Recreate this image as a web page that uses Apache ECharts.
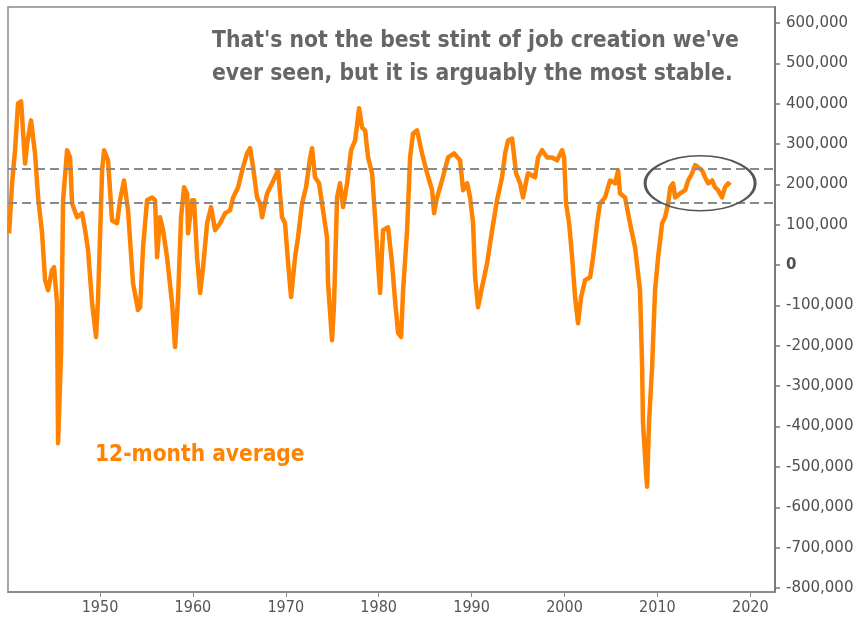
<!DOCTYPE html>
<html><head><meta charset="utf-8">
<script src="https://cdn.jsdelivr.net/npm/echarts@6/dist/echarts.min.js"></script>
<style>html,body{margin:0;padding:0;background:#fff}#c{width:866px;height:627px}</style>
</head><body><div id="c"></div>
<script>
// Year (decimal) of each reading
const years = [
1940.22,1940.54,1940.86,1941.18,1941.51,1941.94,1942.15,1942.58,1943.01,1943.34,1943.77,1944.09,1944.41,1944.84,1945.06,1945.38,1945.49,1945.81,
1946.03,1946.46,1946.78,1947.00,1947.53,1948.07,1948.40,1948.72,1949.15,1949.58,1949.80,1950.23,1950.44,1950.87,1951.30,1951.84,1952.16,1952.59,
1953.02,1953.56,1954.10,1954.32,1954.64,1955.07,1955.61,1955.93,1956.15,1956.47,1956.79,1957.22,1957.76,1958.08,1958.41,1958.73,1959.05,1959.38,
1959.48,1959.91,1960.13,1960.45,1960.78,1961.10,1961.53,1961.96,1962.39,1962.93,1963.47,1964.00,1964.33,1964.87,1965.40,1965.83,1966.16,1966.48,
1966.91,1967.23,1967.45,1967.99,1968.53,1969.17,1969.60,1969.92,1970.25,1970.57,1971.00,1971.32,1971.75,1972.18,1972.62,1972.83,1973.15,1973.58,
1974.01,1974.44,1974.55,1974.98,1975.20,1975.52,1975.84,1976.17,1976.60,1977.03,1977.46,1977.89,1978.21,1978.54,1978.86,1979.29,1979.61,1980.15,
1980.47,1981.01,1981.44,1981.76,1982.09,1982.41,1982.63,1983.06,1983.38,1983.70,1984.13,1984.67,1985.21,1985.75,1985.96,1986.29,1986.82,1987.47,
1988.12,1988.76,1989.09,1989.52,1989.84,1990.16,1990.38,1990.70,1991.13,1991.67,1992.21,1992.74,1993.28,1993.61,1993.93,1994.36,1994.79,1995.22,
1995.54,1995.97,1996.08,1996.83,1997.16,1997.59,1998.13,1998.66,1999.20,1999.74,1999.96,2000.17,2000.50,2000.82,2001.14,2001.46,2001.79,2002.22,
2002.76,2003.08,2003.51,2003.83,2004.37,2004.91,2005.45,2005.77,2005.98,2006.52,2007.05,2007.59,2008.13,2008.35,2008.45,2008.78,2008.89,2009.10,
2009.43,2009.75,2010.08,2010.51,2010.83,2011.16,2011.38,2011.69,2011.91,2012.45,2012.99,2013.31,2013.74,2014.06,2014.38,2014.81,2015.13,2015.46,
2015.89,2016.21,2016.53,2016.96,2017.28,2017.61,2017.83
];
// 12-month average monthly job change, in thousands
const avgJobsK = [
79,203,285,401,406,252,300,359,277,168,79,-37,-62,-12,-5,-94,-441,-218,
161,285,267,153,119,129,87,37,-94,-178,-79,235,285,260,111,104,161,210,
136,-45,-111,-104,45,161,168,161,20,119,87,20,-94,-203,-79,119,193,178,
79,161,161,20,-69,-5,104,144,87,104,129,136,168,193,243,277,290,243,
168,153,119,178,203,235,119,104,5,-79,20,69,153,193,267,290,218,203,
136,69,-45,-186,-94,168,203,144,203,285,309,389,342,334,267,228,119,-69,
87,94,5,-87,-168,-178,-62,87,267,327,334,277,228,186,129,168,210,267,
277,260,186,203,168,104,-30,-104,-54,5,87,161,218,277,309,314,228,203,
168,218,228,218,267,285,267,267,260,285,267,153,104,20,-79,-144,-79,-37,
-30,20,104,153,168,210,203,235,178,168,104,45,-62,-243,-391,-515,-549,-391,
-252,-62,20,104,119,153,193,203,168,178,186,210,228,248,243,235,218,203,
210,193,186,168,193,203,198
];
const xTickYears = [1950,1960,1970,1980,1990,2000,2010,2020];
const yTickValues = [-800000,-700000,-600000,-500000,-400000,-300000,-200000,-100000,0,100000,200000,300000,400000,500000,600000];
const stableBand = [240000, 155000];
const highlightCenter = [2014.6, 203000];
const noteLines = ["That's not the best stint of job creation we've", "ever seen, but it is arguably the most stable."];
const seriesName = '12-month average';

const seriesData = years.map((y, i) => [y, avgJobsK[i] * 1000]);
const fmt = v => v.toLocaleString('en-US');

const chart = echarts.init(document.getElementById('c'), null, {renderer: 'canvas'});
chart.setOption({
  animation: false,
  backgroundColor: '#ffffff',
  grid: {left: 8, right: 91, top: 7, bottom: 35, show: true, borderColor: '#8a8a8a', borderWidth: 1.5, backgroundColor: 'transparent'},
  xAxis: {
    type: 'value', min: 1940.1, max: 2022.66,
    axisLine: {show: true, onZero: false, lineStyle: {color: '#8a8a8a', width: 2}},
    axisTick: {show: true, length: 5, customValues: xTickYears, lineStyle: {color: '#8a8a8a', width: 1}},
    axisLabel: {customValues: xTickYears, formatter: v => String(v), color: '#555555', fontFamily: 'DejaVu Sans Condensed', fontSize: 16, margin: 8},
    splitLine: {show: false}
  },
  yAxis: {
    type: 'value', position: 'right', min: -810000, max: 640000,
    axisLine: {show: true, onZero: false, lineStyle: {color: '#7a7a7a', width: 2}},
    axisTick: {show: true, length: 5, customValues: yTickValues, lineStyle: {color: '#7a7a7a', width: 1.5}},
    axisLabel: {
      customValues: yTickValues, margin: 11, color: '#505050', fontFamily: 'DejaVu Sans', fontSize: 15,
      formatter: v => v === 0 ? '{z|0}' : fmt(v),
      rich: {z: {fontWeight: 'bold', color: '#505050', fontFamily: 'DejaVu Sans', fontSize: 15}}
    },
    splitLine: {show: false}
  },
  series: [{
    name: seriesName, type: 'line', data: seriesData, showSymbol: false, smooth: false,
    lineStyle: {color: '#ff8200', width: 4.5, join: 'round'},
    markLine: {
      silent: true, symbol: 'none', label: {show: false},
      lineStyle: {color: '#8a8a8a', width: 2, type: [9, 5]},
      data: stableBand.map(v => ({yAxis: v}))
    }
  }]
});

const c = chart.convertToPixel({gridIndex: 0}, highlightCenter);
chart.setOption({
  graphic: [
    {type: 'circle', x: c[0], y: c[1], scaleX: 1, scaleY: 0.5, shape: {cx: 0, cy: 0, r: 55},
     style: {fill: 'none', stroke: '#555555', lineWidth: 3, strokeNoScale: true}, z: 10},
    {type: 'text', left: 212, top: 25, style: {text: noteLines.join('\n'), fill: '#666666', font: 'bold 22.7px "DejaVu Sans Condensed"', lineHeight: 33}, z: 10},
    {type: 'text', left: 95, top: 444, style: {text: seriesName, fill: '#ff8200', font: 'bold 22.5px "DejaVu Sans Condensed"'}, z: 10}
  ]
});
</script>
</body></html>
